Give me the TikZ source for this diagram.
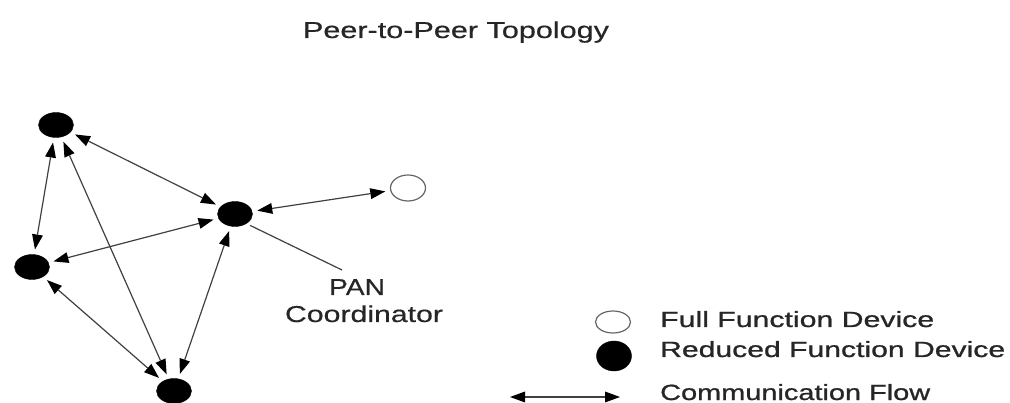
\documentclass[tikz,border=0pt]{standalone}
\usepackage{fontspec}
\setmainfont{Liberation Sans}
\newfontfamily\heavyfont[FakeBold=0.8]{Liberation Sans}
\newfontfamily\midfont[FakeBold=0.4]{Liberation Sans}
\usetikzlibrary{shapes.geometric,arrows.meta}
% set a text at its natural height, stretched to a given width
\newcommand{\widetext}[2]{\resizebox{#1}{\height}{#2}}

\begin{document}
\begin{tikzpicture}[x=1pt,y=-1pt,
  dev/.style={ellipse,minimum width=35pt,minimum height=25pt,inner sep=0pt},
  rfd/.style={dev,fill=black,draw=black},
  ffd/.style={dev,fill=white,draw=black!60,line width=1.2pt},
  tip/.tip={Triangle[length=15pt,width=11pt,fill=black,line width=0pt]},
  flow/.style={draw=black!75,line width=1.2pt,tip-tip,shorten <=5pt,shorten >=5pt},
  lbl/.style={inner sep=0pt,anchor=base,text=black!85,font=\midfont\fontsize{23}{27}\selectfont},
  leg/.style={inner sep=0pt,anchor=base west,text=black!85,font=\heavyfont\fontsize{22}{26}\selectfont},
]
\useasboundingbox (0,0) rectangle (1010,403);
\clip (0,0) rectangle (1010,403);

% title
\node[lbl] (title) at (456,38) {\widetext{306pt}{Peer-to-Peer Topology}};

% devices
\node[rfd] (A) at (56,125) {};
\node[rfd] (B) at (32,267) {};
\node[rfd] (C) at (174,391) {};
\node[rfd] (D) at (235,214) {};
\node[ffd,minimum height=26pt] (E) at (408,188) {};

% communication links
\draw[flow] (A) -- (D);
\draw[flow] (A) -- (B);
\draw[flow] (A) -- (C);
\draw[flow] (B) -- (D);
\draw[flow] (B) -- (C);
\draw[flow] (D) -- (C);
\draw[flow] (D) -- (E);

% coordinator label
\node[lbl] (pan) at (357,295) {\widetext{56pt}{PAN}};
\node[lbl] (coord) at (364,322) {\widetext{158pt}{Coordinator}};
\coordinate (panend) at (342,270);
\draw[draw=black!75,line width=1.2pt,shorten <=4pt] (D.-40) -- (panend);

% legend
\node[ffd,minimum height=22pt] (lffd) at (613,322) {};
\node[rfd,minimum height=30pt] (lrfd) at (614,356) {};
\coordinate (lfl) at (510,397);
\coordinate (lfr) at (620,397);
\draw[flow,shorten <=0pt,shorten >=0pt] (lfl) -- (lfr);
\node[leg] (tffd) at (660,327) {\widetext{274pt}{Full Function Device}};
\node[leg] (trfd) at (660,357) {\widetext{345pt}{Reduced Function Device}};
\node[leg] (tflow) at (660,400) {\widetext{270pt}{Communication Flow}};
\end{tikzpicture}
\end{document}
